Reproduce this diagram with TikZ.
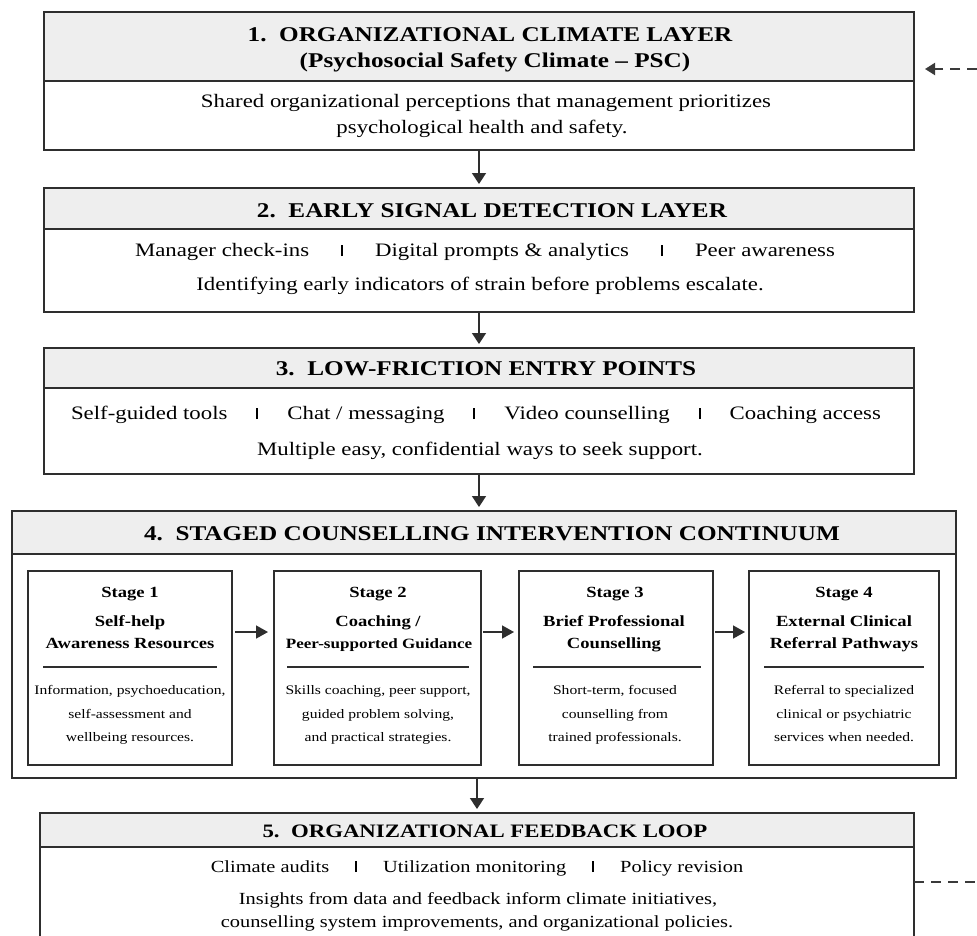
\documentclass[tikz,border=0pt]{standalone}
\usepackage{fontspec}
\setmainfont{Liberation Serif}[FakeStretch=1.2]
\usetikzlibrary{arrows.meta}
\definecolor{edgegray}{HTML}{2E2E2E}
\definecolor{hdrgray}{HTML}{EEEEEE}
\definecolor{dashgray}{HTML}{3A3A3A}
\newcommand{\barsep}[1]{\hspace{#1}\rule{2pt}{11pt}\hspace{#1}}
\begin{document}
\begin{tikzpicture}[x=1pt,y=-1pt,
 layerbox/.style={draw=edgegray,line width=1.7pt,inner sep=0pt,outer sep=0pt,anchor=north west},
 headbox/.style={layerbox,fill=hdrgray},
 stagebox/.style={draw=edgegray,line width=1.3pt,inner sep=0pt,outer sep=0pt,anchor=north west},
 htxt/.style={anchor=base,inner sep=0pt,font=\fontsize{21}{25}\selectfont\bfseries},
 btxt/.style={anchor=base,inner sep=0pt,font=\fontsize{19}{23}\selectfont},
 ftxt/.style={anchor=base,inner sep=0pt,font=\fontsize{17}{21}\selectfont},
 shead/.style={anchor=base,inner sep=0pt,font=\fontsize{15.5}{19}\selectfont\bfseries},
 sbody/.style={anchor=base,inner sep=0pt,font=\fontsize{13}{16}\selectfont},
 flow/.style={draw=edgegray,line width=1.5pt,-{Triangle[length=11pt,width=14pt]}},
 stflow/.style={draw=edgegray,line width=1.5pt,-{Triangle[length=12pt,width=13pt]}},
 loopline/.style={draw=dashgray,line width=2pt,dash pattern=on 10pt off 7pt},
 rulesep/.style={draw=edgegray,line width=1.2pt},
]
\fill[white] (0,0) rectangle (977,935);
\useasboundingbox (0,0) rectangle (977,935);

% ---------- Layer 1
\node[headbox,minimum width=870pt,minimum height=69pt] (H1) at (44,12) {};
\node[layerbox,minimum width=870pt,minimum height=138pt] (L1) at (44,12) {};
\node[htxt] (h1a) at (490,41) {1.\ \ ORGANIZATIONAL CLIMATE LAYER};
\node[htxt] (h1b) at (495,67) {(Psychosocial Safety Climate – PSC)};
\node[btxt] (b1a) at (486,107) {Shared organizational perceptions that management prioritizes};
\node[btxt] (b1b) at (482,133) {psychological health and safety.};

% ---------- Layer 2
\node[headbox,minimum width=870pt,minimum height=41pt] (H2) at (44,188) {};
\node[layerbox,minimum width=870pt,minimum height=124pt] (L2) at (44,188) {};
\node[htxt] (h2) at (492,217) {2.\ \ EARLY SIGNAL DETECTION LAYER};
\node[btxt] (b2a) at (485,256) {Manager check-ins\barsep{32pt}Digital prompts \& analytics\barsep{32pt}Peer awareness};
\node[btxt] (b2b) at (480,290) {Identifying early indicators of strain before problems escalate.};

% ---------- Layer 3
\node[headbox,minimum width=870pt,minimum height=40pt] (H3) at (44,348) {};
\node[layerbox,minimum width=870pt,minimum height=126pt] (L3) at (44,348) {};
\node[htxt] (h3) at (486,375) {3.\ \ LOW-FRICTION ENTRY POINTS};
\node[btxt] (b3a) at (476,419) {Self-guided tools\barsep{29pt}Chat / messaging\barsep{29pt}Video counselling\barsep{29pt}Coaching access};
\node[btxt] (b3b) at (480,455) {Multiple easy, confidential ways to seek support.};

% ---------- Layer 4
\node[headbox,minimum width=944pt,minimum height=43pt] (H4) at (12,511) {};
\node[layerbox,minimum width=944pt,minimum height=267pt] (L4) at (12,511) {};
\node[htxt] (h4) at (492,540) {4.\ \ STAGED COUNSELLING INTERVENTION CONTINUUM};

\node[stagebox,minimum width=204pt,minimum height=194pt] (S1) at (28,571) {};
\node[stagebox,minimum width=207pt,minimum height=194pt] (S2) at (274,571) {};
\node[stagebox,minimum width=194pt,minimum height=194pt] (S3) at (519,571) {};
\node[stagebox,minimum width=190pt,minimum height=194pt] (S4) at (749,571) {};

\node[shead] (s1a) at (130,597) {Stage 1};
\node[shead] (s1b) at (130,626) {Self-help};
\node[shead] (s1c) at (130,648) {Awareness Resources};
\draw[rulesep] (43,667) -- (217,667);
\node[sbody] (s1d) at (130,694) {Information, psychoeducation,};
\node[sbody] (s1e) at (130,718) {self-assessment and};
\node[sbody] (s1f) at (130,741) {wellbeing resources.};

\node[shead] (s2a) at (378,597) {Stage 2};
\node[shead] (s2b) at (378,626) {Coaching /};
\node[shead,font=\fontsize{14.2}{19}\selectfont\bfseries] (s2c) at (379,648) {Peer-supported Guidance};
\draw[rulesep] (287,667) -- (469,667);
\node[sbody] (s2d) at (378,694) {Skills coaching, peer support,};
\node[sbody] (s2e) at (378,718) {guided problem solving,};
\node[sbody] (s2f) at (378,741) {and practical strategies.};

\node[shead] (s3a) at (615,597) {Stage 3};
\node[shead] (s3b) at (614,626) {Brief Professional};
\node[shead] (s3c) at (614,648) {Counselling};
\draw[rulesep] (533,667) -- (701,667);
\node[sbody] (s3d) at (615,694) {Short-term, focused};
\node[sbody] (s3e) at (615,718) {counselling from};
\node[sbody] (s3f) at (615,741) {trained professionals.};

\node[shead] (s4a) at (844,597) {Stage 4};
\node[shead] (s4b) at (844,626) {External Clinical};
\node[shead] (s4c) at (844,648) {Referral Pathways};
\draw[rulesep] (764,667) -- (924,667);
\node[sbody] (s4d) at (844,694) {Referral to specialized};
\node[sbody] (s4e) at (844,718) {clinical or psychiatric};
\node[sbody] (s4f) at (844,741) {services when needed.};

\draw[stflow,shorten <=3pt,shorten >=6pt] ([yshift=36pt]S1.east) -- ([yshift=36pt]S2.west);
\draw[stflow,shorten <=2pt,shorten >=5pt] ([yshift=36pt]S2.east) -- ([yshift=36pt]S3.west);
\draw[stflow,shorten <=2pt,shorten >=4pt] ([yshift=36pt]S3.east) -- ([yshift=36pt]S4.west);

% ---------- Layer 5
\node[headbox,minimum width=874pt,minimum height=34pt] (H5) at (40,813) {};
\node[layerbox,minimum width=874pt,minimum height=137pt] (L5) at (40,813) {};
\node[htxt,font=\fontsize{19}{23}\selectfont\bfseries] (h5) at (485,837) {5.\ \ ORGANIZATIONAL FEEDBACK LOOP};
\node[ftxt] (b5a) at (477,872) {Climate audits\barsep{26pt}Utilization monitoring\barsep{26pt}Policy revision};
\node[ftxt] (b5b) at (478,904) {Insights from data and feedback inform climate initiatives,};
\node[ftxt] (b5c) at (477,927) {counselling system improvements, and organizational policies.};

% ---------- vertical flow
\draw[flow,shorten >=4pt] (L1.south) -- (H2.north);
\draw[flow,shorten >=4pt] (L2.south) -- (H3.north);
\draw[flow,shorten >=4pt] (L3.south) -- (L3.south |- H4.north);
\draw[flow,shorten >=4pt] (H5.north |- L4.south) -- (H5.north);

% ---------- feedback loop (dashed)
\coordinate (fbTip) at (925,69);
\coordinate (fbEdgeT) at (977,69);
\coordinate (fbEdgeB) at (977,881.5);
\draw[loopline,-{Triangle[length=10pt,width=12pt]}] (fbEdgeT) -- (fbTip);
\draw[loopline] (L5.east) -- (fbEdgeB);
\end{tikzpicture}
\end{document}
